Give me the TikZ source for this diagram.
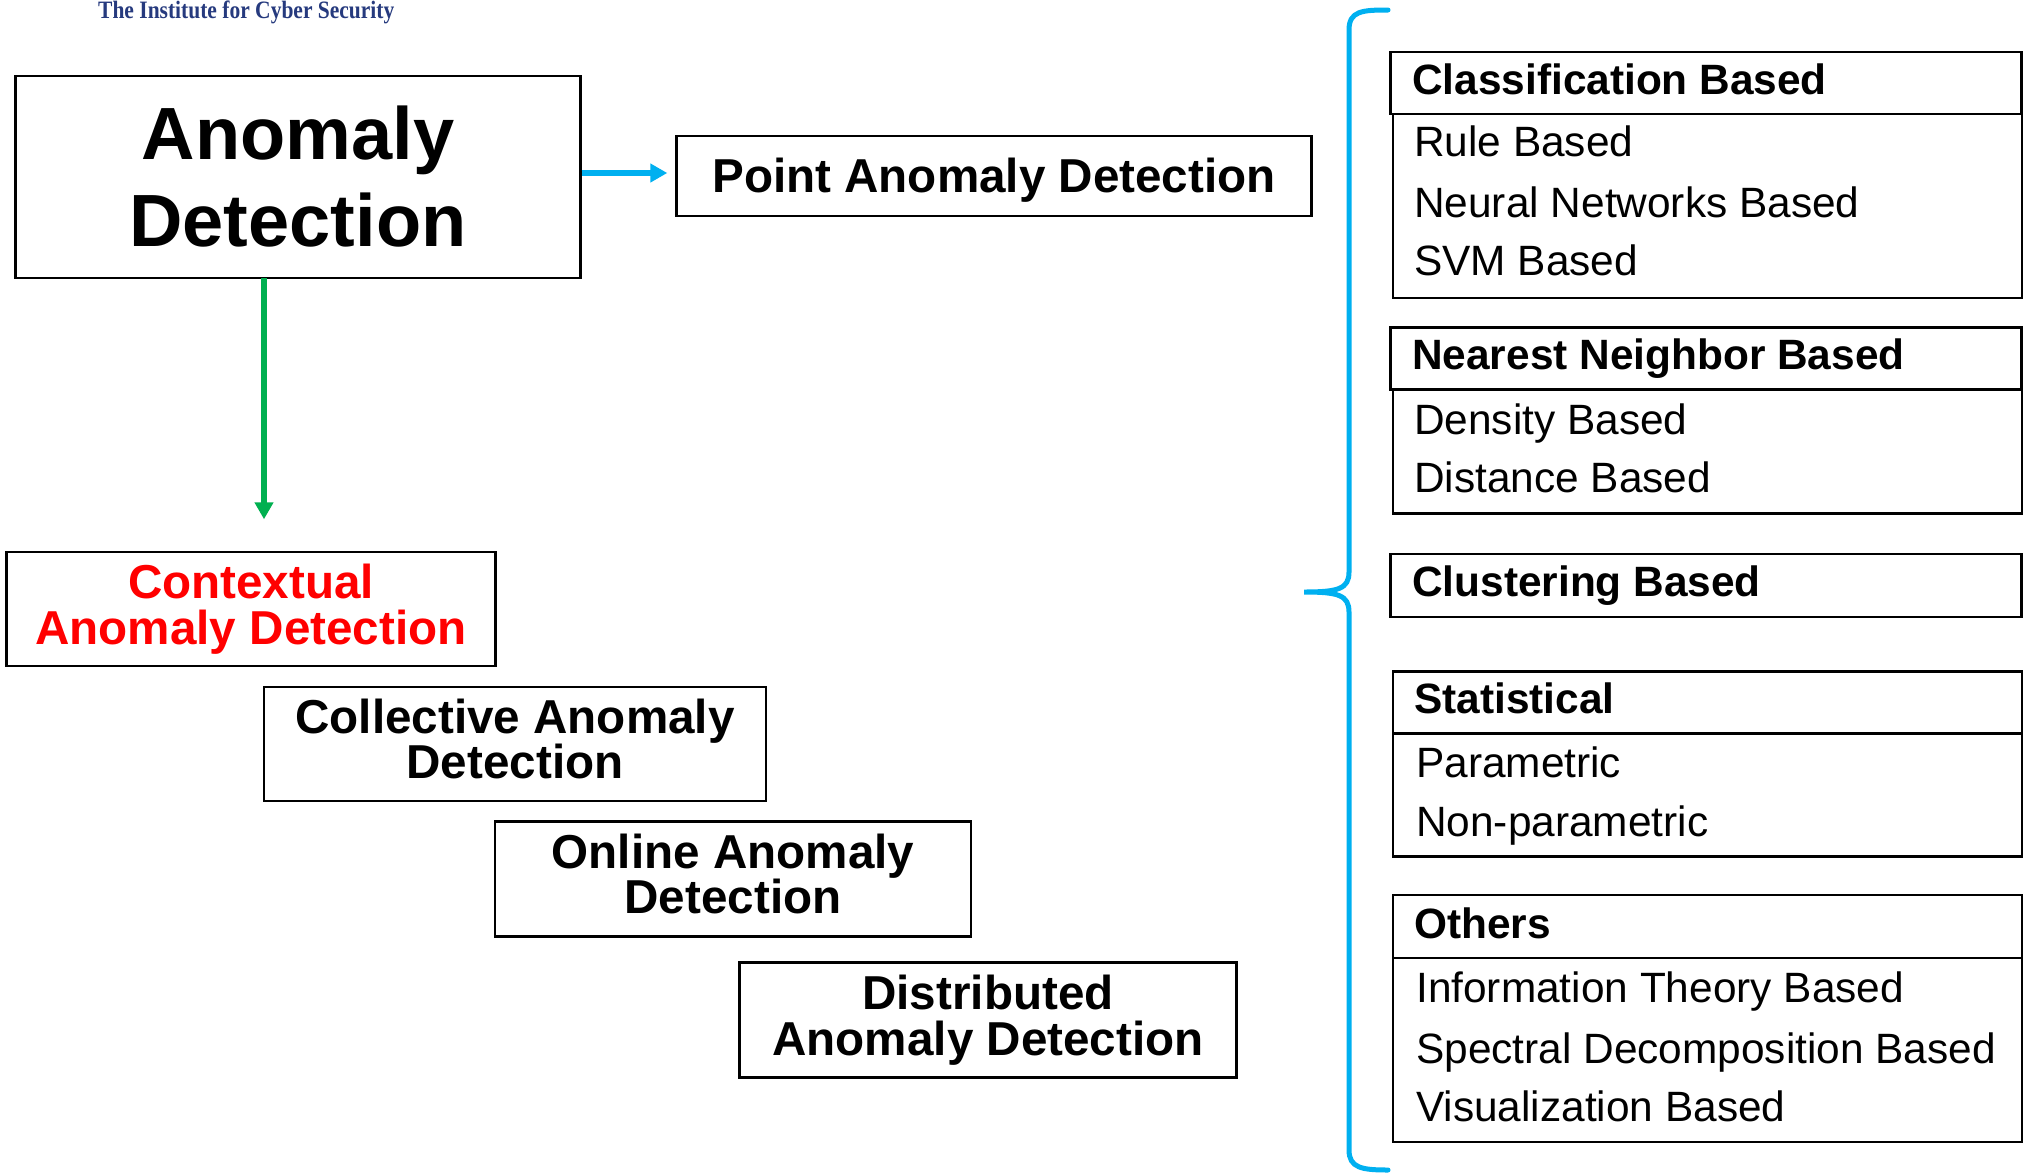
\documentclass[tikz,border=0pt]{standalone}
\usepackage{fontspec}
\setmainfont{Liberation Sans}
\newfontfamily\instfont{Liberation Serif}
\usetikzlibrary{arrows.meta}
\definecolor{brblue}{HTML}{00B0F0}
\definecolor{brgreen}{HTML}{00B050}
\definecolor{navy}{HTML}{263A7E}
\newcommand\fsz[2]{\fontsize{#1}{#2}\selectfont}
\tikzset{
  box/.style={draw=black, line width=2.4pt, inner sep=0pt},
  bigtitle/.style={align=center, font=\bfseries\fsz{74}{87}},
  kind/.style={align=center, inner sep=0pt, font=\bfseries\fsz{47.6}{45.5}},
  grouphead/.style={anchor=base west, inner sep=0pt, font=\bfseries\fsz{42.4}{48}},
  groupitem/.style={anchor=base west, inner sep=0pt, font=\fsz{42.4}{48}},
  flow/.style={line width=6.5pt, brblue, -{Triangle[length=17pt,width=18pt]}},
  down/.style={line width=5.5pt, brgreen, -{Triangle[length=17pt,width=18pt]}},
}
\begin{document}
\begin{tikzpicture}[x=1pt, y=-1pt]
\useasboundingbox[fill=white] (0,0) rectangle (2028,1175);

% institute banner
\node[anchor=base west, inner sep=0pt, xscale=0.86, text=navy,
      font=\instfont\bfseries\fsz{25}{28}] (inst) at (98,18) {The Institute for Cyber Security};

% main categories
\node[box, minimum width=565pt, minimum height=202pt, bigtitle] (ad) at (298,177) {Anomaly\\Detection};

\node[box, minimum width=635pt, minimum height=80pt] (point) at (994,176) {};
\node[kind] (pointt) at ([yshift=-4pt]point.center) {Point Anomaly Detection};

\node[box, minimum width=489pt, minimum height=114pt] (ctx) at (251,609) {};
\node[kind, text=red] (ctxt) at (ctx.center) {Contextual\\Anomaly Detection};

\node[box, minimum width=502pt, minimum height=114pt] (coll) at (515,744) {};
\node[kind] (collt) at ([yshift=5pt]coll.center) {Collective Anomaly\\Detection};

\node[box, minimum width=476pt, minimum height=115pt] (online) at (733,879) {};
\node[kind] (onlinet) at ([yshift=5pt]online.center) {Online Anomaly\\Detection};

\node[box, minimum width=497pt, minimum height=115pt] (dist) at (988,1020) {};
\node[kind] (distt) at (dist.center) {Distributed\\Anomaly Detection};

\draw[flow, shorten >=8pt] (ad.east |- 0,173) -- (point.west |- 0,173);
\draw[down, shorten >=33pt] (264,278) -- (264,552.3);

% brace grouping the technique families
\draw[brblue, line width=5pt, line cap=round]
  (1388,10) .. controls (1362,10) and (1349,11) .. (1349,30)
  -- (1349,572) .. controls (1349,589) and (1338,592) .. (1304,592)
  .. controls (1338,592) and (1349,595) .. (1349,612)
  -- (1349,1150) .. controls (1349,1168) and (1362,1170) .. (1388,1170);

% classification based
\node[box, minimum width=631pt, minimum height=62pt] (clsh) at (1706,82.8) {};
\node[box, minimum width=629pt, minimum height=184pt] (clsb) at (1707.3,205.7) {};
\node[grouphead] (clst) at (1412,94) {Classification Based};
\node[groupitem] (cls1) at (1414,156) {Rule Based};
\node[groupitem] (cls2) at (1414,217) {Neural Networks Based};
\node[groupitem] (cls3) at (1414,275) {SVM Based};

% nearest neighbor based
\node[box, minimum width=631pt, minimum height=62pt] (nnh) at (1706,358.3) {};
\node[box, minimum width=629pt, minimum height=124pt] (nnb) at (1707.3,451.4) {};
\node[grouphead] (nnt) at (1412,369.5) {Nearest Neighbor Based};
\node[groupitem] (nn1) at (1414,434) {Density Based};
\node[groupitem] (nn2) at (1414,492) {Distance Based};

% clustering based
\node[box, minimum width=631pt, minimum height=63pt] (clu) at (1706,585.3) {};
\node[grouphead] (clut) at (1412,596) {Clustering Based};

% statistical
\node[box, minimum width=629pt, minimum height=62pt] (sth) at (1707.3,702.4) {};
\node[box, minimum width=629pt, minimum height=123pt] (stb) at (1707.3,794.8) {};
\node[grouphead] (stt) at (1414,713.5) {Statistical};
\node[groupitem] (st1) at (1416,777) {Parametric};
\node[groupitem] (st2) at (1416,836) {Non-parametric};

% others
\node[box, minimum width=629pt, minimum height=63pt] (oth) at (1707.3,926.7) {};
\node[box, minimum width=629pt, minimum height=184pt] (otb) at (1707.3,1050.2) {};
\node[grouphead] (ott) at (1414,938.5) {Others};
\node[groupitem] (ot1) at (1416,1002) {Information Theory Based};
\node[groupitem] (ot2) at (1416,1063) {Spectral Decomposition Based};
\node[groupitem] (ot3) at (1416,1121) {Visualization Based};
\end{tikzpicture}
\end{document}
